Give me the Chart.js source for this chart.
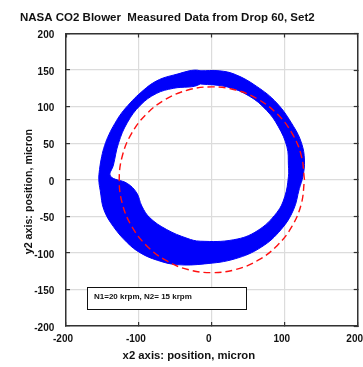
<!DOCTYPE html>
<html>
<head>
<meta charset="utf-8">
<script src="https://cdn.jsdelivr.net/npm/chart.js@4.4.1/dist/chart.umd.min.js"></script>
<style>
  html, body { margin: 0; padding: 0; background: #fff; }
</style>
</head>
<body>
<canvas id="orbitChart" width="363" height="367"></canvas>
<script>
const xTicks = [-200, -100, 0, 100, 200];
const yTicks = [-200, -150, -100, -50, 0, 50, 100, 150, 200];

// outer edge of the blue orbit band (micron)
const outerX = [-16, 10, 32, 61, 89, 112, 123, 127, 125, 120, 112, 95, 68, 32, -10, -48, -75, -98, -116, -135, -148, -153, -155, -154, -151, -147, -141, -133, -124, -112, -100, -78, -53, -16];
const outerY = [149, 149, 144, 128, 105, 73, 50, 27, 5, -12, -41, -68, -92, -108, -115, -116, -110, -100, -86, -64, -41, -15, 0, 14, 32, 47, 62, 77, 91, 105, 117, 134, 143, 149];

// inner edge of the band, going the other way round
const innerX = [-16, -53, -76, -98, -116, -128, -135, -139, -116, -103, -96, -85, -62, -34, -16, 30, 62, 89, 100, 105, 105, 103, 91, 75, 52, 21, -16];
const innerY = [131, 125, 118, 102, 78, 50, 20, 5, -5, -18, -36, -52, -68, -80, -84, -82, -70, -45, -23, 4, 20, 45, 73, 95, 114, 127, 131];

// red dashed clearance circle
const circleX = [127, 122.7, 110, 89.8, 63.5, 32.9, 0, -32.9, -63.5, -89.8, -110, -122.7, -127, -122.7, -110, -89.8, -63.5, -32.9, 0, 32.9, 63.5, 89.8, 110, 122.7, 127];
const circleY = [0, 32.9, 63.5, 89.8, 110, 122.7, 127, 122.7, 110, 89.8, 63.5, 32.9, 0, -32.9, -63.5, -89.8, -110, -122.7, -127, -122.7, -110, -89.8, -63.5, -32.9, 0];

const speedNote = 'N1=20 krpm, N2= 15 krpm';
const noteBox = { left: -171, right: 47, top: -146, bottom: -177 };

const FONT = '"Liberation Sans", Arial, sans-serif';
const INK = '#111';
const FRAME = '#333';

function toPoints(xs, ys) {
    return xs.map((x, i) => ({ x: x, y: ys[i] }));
}

function fixedTicks(values) {
    return function (scale) {
        scale.ticks = values.map(v => ({ value: v }));
    };
}

function fixedSize(prop, size) {
    return function (scale) {
        scale[prop] = size;
        scale.paddingLeft = 0;
        scale.paddingRight = 0;
        scale.paddingTop = 0;
        scale.paddingBottom = 0;
    };
}

const notePlugin = {
    id: 'speedNote',
    afterDatasetsDraw(chart) {
        const { ctx, scales } = chart;
        const l = Math.round(scales.x.getPixelForValue(noteBox.left)) + 0.5;
        const r = Math.round(scales.x.getPixelForValue(noteBox.right)) + 0.5;
        const t = Math.round(scales.y.getPixelForValue(noteBox.top)) + 0.5;
        const b = Math.round(scales.y.getPixelForValue(noteBox.bottom)) + 0.5;
        ctx.save();
        ctx.fillStyle = '#fff';
        ctx.fillRect(l, t, r - l, b - t);
        ctx.strokeStyle = INK;
        ctx.lineWidth = 1;
        ctx.strokeRect(l, t, r - l, b - t);
        ctx.fillStyle = INK;
        ctx.font = 'bold 8px ' + FONT;
        ctx.textBaseline = 'middle';
        ctx.fillText(speedNote, l + 6.5, (t + b) / 2 - 1.5);
        ctx.restore();
    }
};

const bandX = outerX.concat(innerX);
const bandY = outerY.concat(innerY);

new Chart(document.getElementById('orbitChart'), {
    type: 'scatter',
    data: {
        datasets: [{
            label: 'clearance',
            data: toPoints(circleX, circleY),
            showLine: true,
            borderColor: '#ff1010',
            borderWidth: 1.4,
            borderDash: [7, 4],
            tension: 0.4,
            pointRadius: 0,
            fill: false,
            order: 1
        }, {
            label: 'orbit',
            data: toPoints(bandX, bandY),
            showLine: true,
            borderColor: 'rgb(0, 0, 250)',
            backgroundColor: 'rgb(0, 0, 250)',
            borderWidth: 1,
            tension: 0.4,
            pointRadius: 0,
            fill: 'shape',
            order: 2
        }]
    },
    options: {
        responsive: false,
        animation: false,
        events: [],
        layout: { padding: { left: 20, right: 5.3, top: 0, bottom: 0 } },
        scales: {
            x: {
                type: 'linear',
                position: 'bottom',
                min: -200,
                max: 200,
                afterBuildTicks: fixedTicks(xTicks),
                afterFit: fixedSize('height', 23),
                grid: { color: '#dcdcdc', lineWidth: 1.2, tickLength: -4, tickColor: FRAME, tickWidth: 1.2 },
                border: { color: FRAME, width: 1.5 },
                ticks: { color: INK, padding: 11, labelOffset: -3, maxRotation: 0, font: { family: FONT, size: 10, weight: 'bold' } }
            },
            y: {
                type: 'linear',
                position: 'left',
                min: -200,
                max: 200,
                afterBuildTicks: fixedTicks(yTicks),
                afterFit: fixedSize('width', 46),
                grid: { color: '#dcdcdc', lineWidth: 1.2, tickLength: -4, tickColor: FRAME, tickWidth: 1.2 },
                border: { color: FRAME, width: 1.5 },
                ticks: { color: INK, padding: 15.7, labelOffset: 2, font: { family: FONT, size: 10, weight: 'bold' } },
                title: {
                    display: true,
                    text: 'y2 axis: position, micron        ',
                    color: INK,
                    padding: { top: 2.6, bottom: 0 },
                    font: { family: FONT, size: 10.7, weight: 'bold' }
                }
            },
            x2: {
                type: 'linear',
                position: 'top',
                min: -200,
                max: 200,
                afterBuildTicks: fixedTicks(xTicks),
                afterFit: fixedSize('height', 0),
                grid: { drawOnChartArea: false, tickLength: -4, tickColor: FRAME, tickWidth: 1.2 },
                border: { color: FRAME, width: 1.5 },
                ticks: { display: false }
            },
            y2: {
                type: 'linear',
                position: 'right',
                min: -200,
                max: 200,
                afterBuildTicks: fixedTicks(yTicks),
                afterFit: fixedSize('width', 0),
                grid: { drawOnChartArea: false, tickLength: -4, tickColor: FRAME, tickWidth: 1.2 },
                border: { color: FRAME, width: 1.5 },
                ticks: { display: false }
            }
        },
        plugins: {
            legend: { display: false },
            tooltip: { enabled: false },
            title: {
                display: true,
                text: 'NASA CO2 Blower  Measured Data from Drop 60, Set2',
                align: 'start',
                color: INK,
                padding: { top: 11, bottom: 8.7 },
                font: { family: FONT, size: 11.5, weight: 'bold' }
            },
            subtitle: {
                display: true,
                position: 'bottom',
                text: 'x2 axis: position, micron',
                color: INK,
                padding: { top: 0, bottom: 4.4 },
                font: { family: FONT, size: 11.3, weight: 'bold' }
            }
        }
    },
    plugins: [notePlugin]
});
</script>
</body>
</html>
